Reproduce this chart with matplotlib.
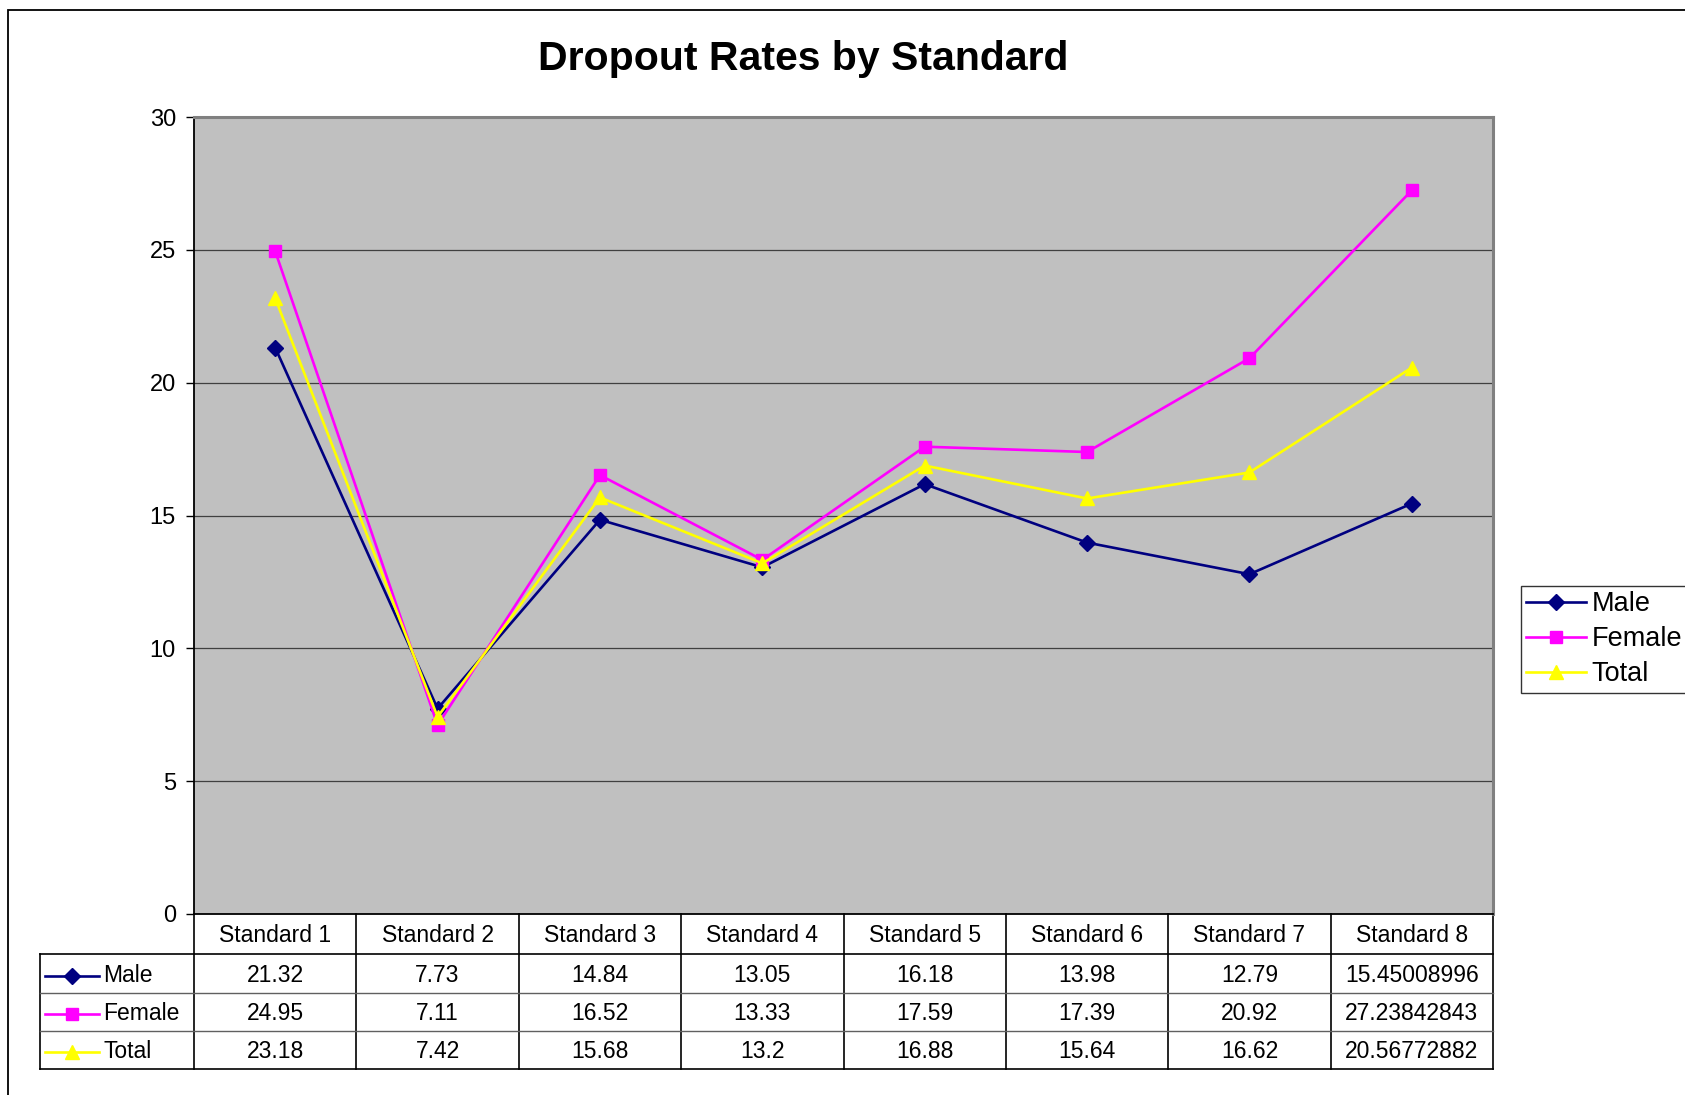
import matplotlib
matplotlib.use("Agg")
import matplotlib.pyplot as plt
from matplotlib.lines import Line2D
from matplotlib.patches import Rectangle
from matplotlib.transforms import blended_transform_factory

plt.rcParams['font.family'] = ['Liberation Sans', 'DejaVu Sans']

# ===== Data =====
standards = ["Standard 1", "Standard 2", "Standard 3", "Standard 4",
             "Standard 5", "Standard 6", "Standard 7", "Standard 8"]
male   = [21.32, 7.73, 14.84, 13.05, 16.18, 13.98, 12.79, 15.45008996]
female = [24.95, 7.11, 16.52, 13.33, 17.59, 17.39, 20.92, 27.23842843]
total  = [23.18, 7.42, 15.68, 13.2, 16.88, 15.64, 16.62, 20.56772882]

series = [
    ("Male",   male,   "#000080", "D", 8),
    ("Female", female, "#FF00FF", "s", 9),
    ("Total",  total,  "#FFFF00", "^", 10),
]

W, H = 1685, 1095
fig = plt.figure(figsize=(W / 100, H / 100), dpi=100)

def fx(px): return px / W
def fy(py): return 1 - py / H

# outer chart frame
fig.patches.append(Rectangle((fx(8), -0.1), 1.2, fy(10) + 0.1, transform=fig.transFigure,
                             fill=False, edgecolor="black", linewidth=1.3))

ax_l, ax_r, ax_t, ax_b = 194, 1493, 117, 914
ax = fig.add_axes([fx(ax_l), fy(ax_b), fx(ax_r - ax_l), fy(ax_t) - fy(ax_b)])
ax.set_facecolor("#C0C0C0")
ax.set_xlim(-0.5, len(standards) - 0.5)
ax.set_ylim(0, 30)
ax.set_yticks(range(0, 31, 5))
ax.tick_params(axis="y", labelsize=17, length=6, width=1, direction="out", pad=7)
ax.set_xticks([])
ax.grid(axis="y", color="#404040", linewidth=0.9)
ax.set_axisbelow(True)
for s in ["left", "bottom"]:
    ax.spines[s].set_color("black")
    ax.spines[s].set_linewidth(1.3)
for s in ["top", "right"]:
    ax.spines[s].set_color("#808080")
    ax.spines[s].set_linewidth(2.2)

x = list(range(len(standards)))
for name, vals, col, mk, ms in series:
    ax.plot(x, vals, color=col, linewidth=1.9, marker=mk, markersize=ms,
            markeredgecolor=col, markerfacecolor=col, label=name, zorder=3)

fig.text(fx(803), fy(59), "Dropout Rates by Standard", ha="center", va="center",
         fontsize=29.5, fontweight="bold")

leg = fig.legend(handles=[Line2D([0], [0], color=c, marker=m, markersize=ms, linewidth=1.9)
                          for _, _, c, m, ms in series],
                 labels=[s[0] for s in series], loc="upper left",
                 bbox_to_anchor=(fx(1521), fy(586)), bbox_transform=fig.transFigure,
                 fontsize=19.5, frameon=True, fancybox=False, borderaxespad=0,
                 handlelength=2.2, handletextpad=0.2, labelspacing=0.33,
                 borderpad=0.2)
leg.get_frame().set_edgecolor("black")
leg.get_frame().set_linewidth(1.0)

# ===== Data table under the axis =====
tr = blended_transform_factory(ax.transData, fig.transFigure)
colw = (ax_r - ax_l) / len(standards)
label_left = -0.5 - (ax_l - 40) / colw
right = len(standards) - 0.5
hdr_bot, row_bots = 954, [993, 1031, 1069]
lkw = dict(transform=tr, clip_on=False, color="black", linewidth=1.2)
fs = 16.5

# header row
for i, name in enumerate(standards):
    fig.text(i, fy((ax_b + hdr_bot) / 2 + 1), name, transform=tr, ha="center", va="center",
             fontsize=fs)
# vertical lines
for i in range(len(standards) + 1):
    ax.plot([i - 0.5, i - 0.5], [fy(ax_b), fy(row_bots[-1])], **lkw)
ax.plot([label_left, label_left], [fy(hdr_bot), fy(row_bots[-1])], **lkw)
# horizontal lines
ax.plot([label_left, right], [fy(hdr_bot), fy(hdr_bot)], **lkw)
ax.plot([label_left, right], [fy(row_bots[-1]), fy(row_bots[-1])], **lkw)
for yb in row_bots[:-1]:
    ax.plot([label_left, right], [fy(yb), fy(yb)], transform=tr, clip_on=False,
            color="#606060", linewidth=1.0)

tops = [hdr_bot] + row_bots[:-1]
key_x0 = -0.5 - (ax_l - 45) / colw
key_x1 = -0.5 - (ax_l - 99) / colw
txt_x = -0.5 - (ax_l - 103) / colw
for (name, vals, col, mk, ms), top, bot in zip(series, tops, row_bots):
    yc = fy((top + bot) / 2 + 2)
    ax.plot([key_x0, (key_x0 + key_x1) / 2, key_x1], [yc] * 3, transform=tr, clip_on=False,
            color=col, linewidth=1.9, marker=mk, markersize=ms, markevery=[1],
            markeredgecolor=col, markerfacecolor=col)
    fig.text(txt_x, yc, name, transform=tr, ha="left", va="center", fontsize=fs)
    for i, v in enumerate(vals):
        fig.text(i, yc, str(v), transform=tr, ha="center", va="center", fontsize=fs)

fig.savefig("out.png", dpi=100)
